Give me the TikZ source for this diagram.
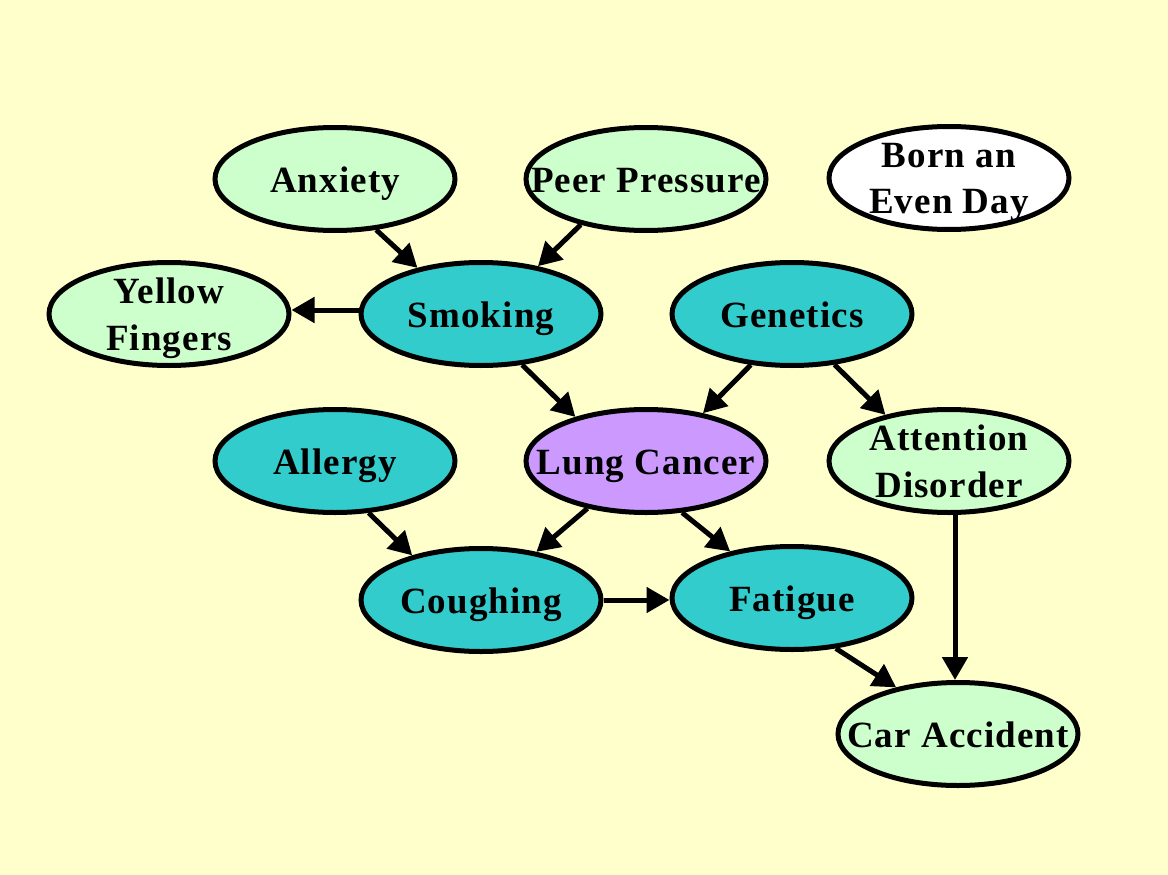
\documentclass[tikz,border=0pt]{standalone}
\usepackage{fontspec}
\setmainfont{Liberation Serif}[LetterSpace=3]
\usetikzlibrary{shapes.geometric,arrows.meta}
\definecolor{bgyellow}{HTML}{FFFFCC}
\definecolor{lgreen}{HTML}{CCFFCC}
\definecolor{teal}{HTML}{33CCCC}
\definecolor{lpurple}{HTML}{CC99FF}
\newcommand{\lbl}[1]{\makebox[0pt][c]{\raisebox{-13.5pt}[0pt][0pt]{#1}}}
\newcommand{\lblii}[2]{\makebox[0pt][c]{\raisebox{11pt}[0pt][0pt]{\begin{tabular}[t]{@{}c@{}}#1\\#2\end{tabular}}}}
\begin{document}
\begin{tikzpicture}[x=1pt,y=-1pt,
  var/.style={ellipse,draw=black,line width=5pt,minimum width=240pt,minimum height=103pt,inner sep=0pt,
    font=\fontsize{37}{47}\selectfont\bfseries,text=black},
  light/.style={var,fill=lgreen},
  dark/.style={var,fill=teal},
  arr/.style={line width=5pt,-{Triangle[length=23pt,width=25pt]}}]
\fill[bgyellow] (0,0) rectangle (1168,875);
\useasboundingbox (0,0) rectangle (1168,875);
\node[light] (anx) at (335,179) {\lbl{Anxiety}};
\node[light] (peer) at (646,179) {\lbl{Peer Pressure}};
\node[var,fill=white] (born) at (949,178) {\lblii{Born an}{Even Day}};
\node[light] (yf) at (169,314) {\lblii{Yellow}{Fingers}};
\node[dark] (smk) at (481,314) {\lbl{Smoking}};
\node[dark] (gen) at (792,314) {\lbl{Genetics}};
\node[dark] (all) at (335,461) {\lbl{Allergy}};
\node[var,fill=lpurple] (lc) at (646,461) {\lbl{Lung Cancer}};
\node[light] (ad) at (949,461) {\lblii{Attention}{Disorder}};
\node[dark] (cough) at (481,600) {\lbl{Coughing}};
\node[dark] (fat) at (792,598) {\lbl{Fatigue}};
\node[light] (car) at (958,734) {\lbl{Car Accident}};
\draw[arr] (anx.-51) -- (smk.144.5);
\draw[arr] (peer.-145) -- (smk.40);
\draw[arr] ([yshift=4pt]smk.west) -- ([yshift=4pt]yf.east);
\draw[arr] (smk.-51) -- (lc.148);
\draw[arr] (gen.-129) -- (lc.40);
\draw[arr] (gen.-50) -- (ad.144);
\draw[arr] (all.-57.6) -- (cough.147.7);
\draw[arr] (lc.-141) -- (cough.41);
\draw[arr] (lc.-55) -- (fat.143);
\draw[arr] (cough.east) -- (cough.east -| fat.west);
\draw[arr] (fat.-49.6) -- (car.143.4);
\draw[arr] ([xshift=6pt]ad.south) -- ([xshift=-3pt]car.north);
\end{tikzpicture}
\end{document}
